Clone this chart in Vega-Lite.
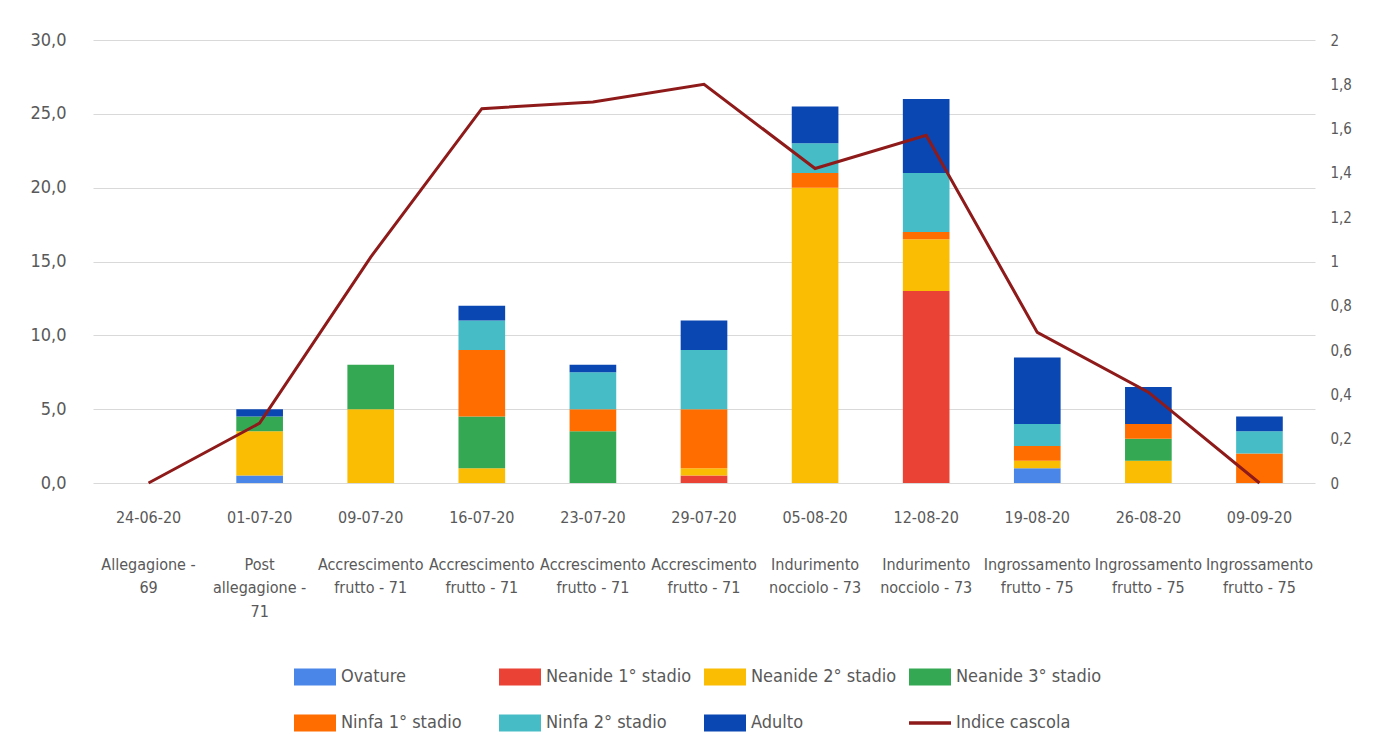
{
  "$schema": "https://vega.github.io/schema/vega-lite/v6.json",
  "width": 1222,
  "height": 443,
  "autosize": "none",
  "padding": {"left": 93, "top": 40, "right": 58, "bottom": 270},
  "background": "white",
  "config": {
    "view": {"stroke": null},
    "font": "DejaVu Sans Condensed",
    "axis": {
      "labelFont": "DejaVu Sans Condensed",
      "labelFontSize": 16,
      "labelColor": "#595959",
      "domain": false,
      "ticks": false,
      "title": null,
      "gridColor": "#d9d9d9",
      "gridWidth": 1
    },
    "legend": {
      "labelFont": "DejaVu Sans Condensed"
    }
  },
  "data": {
    "values": [
      {"periodo": "24-06-20|Allegagione -|69", "Ovature": 0, "Neanide 1° stadio": 0, "Neanide 2° stadio": 0, "Neanide 3° stadio": 0, "Ninfa 1° stadio": 0, "Ninfa 2° stadio": 0, "Adulto": 0, "indice": 0},
      {"periodo": "01-07-20|Post|allegagione -|71", "Ovature": 0.5, "Neanide 1° stadio": 0, "Neanide 2° stadio": 3, "Neanide 3° stadio": 1, "Ninfa 1° stadio": 0, "Ninfa 2° stadio": 0, "Adulto": 0.5, "indice": 0.27},
      {"periodo": "09-07-20|Accrescimento|frutto - 71", "Ovature": 0, "Neanide 1° stadio": 0, "Neanide 2° stadio": 5, "Neanide 3° stadio": 3, "Ninfa 1° stadio": 0, "Ninfa 2° stadio": 0, "Adulto": 0, "indice": 1.02},
      {"periodo": "16-07-20|Accrescimento|frutto - 71", "Ovature": 0, "Neanide 1° stadio": 0, "Neanide 2° stadio": 1, "Neanide 3° stadio": 3.5, "Ninfa 1° stadio": 4.5, "Ninfa 2° stadio": 2, "Adulto": 1, "indice": 1.69},
      {"periodo": "23-07-20|Accrescimento|frutto - 71", "Ovature": 0, "Neanide 1° stadio": 0, "Neanide 2° stadio": 0, "Neanide 3° stadio": 3.5, "Ninfa 1° stadio": 1.5, "Ninfa 2° stadio": 2.5, "Adulto": 0.5, "indice": 1.72},
      {"periodo": "29-07-20|Accrescimento|frutto - 71", "Ovature": 0, "Neanide 1° stadio": 0.5, "Neanide 2° stadio": 0.5, "Neanide 3° stadio": 0, "Ninfa 1° stadio": 4, "Ninfa 2° stadio": 4, "Adulto": 2, "indice": 1.8},
      {"periodo": "05-08-20|Indurimento|nocciolo - 73", "Ovature": 0, "Neanide 1° stadio": 0, "Neanide 2° stadio": 20, "Neanide 3° stadio": 0, "Ninfa 1° stadio": 1, "Ninfa 2° stadio": 2, "Adulto": 2.5, "indice": 1.42},
      {"periodo": "12-08-20|Indurimento|nocciolo - 73", "Ovature": 0, "Neanide 1° stadio": 13, "Neanide 2° stadio": 3.5, "Neanide 3° stadio": 0, "Ninfa 1° stadio": 0.5, "Ninfa 2° stadio": 4, "Adulto": 5, "indice": 1.57},
      {"periodo": "19-08-20|Ingrossamento|frutto - 75", "Ovature": 1, "Neanide 1° stadio": 0, "Neanide 2° stadio": 0.5, "Neanide 3° stadio": 0, "Ninfa 1° stadio": 1, "Ninfa 2° stadio": 1.5, "Adulto": 4.5, "indice": 0.68},
      {"periodo": "26-08-20|Ingrossamento|frutto - 75", "Ovature": 0, "Neanide 1° stadio": 0, "Neanide 2° stadio": 1.5, "Neanide 3° stadio": 1.5, "Ninfa 1° stadio": 1, "Ninfa 2° stadio": 0, "Adulto": 2.5, "indice": 0.41},
      {"periodo": "09-09-20|Ingrossamento|frutto - 75", "Ovature": 0, "Neanide 1° stadio": 0, "Neanide 2° stadio": 0, "Neanide 3° stadio": 0, "Ninfa 1° stadio": 2, "Ninfa 2° stadio": 1.5, "Adulto": 1, "indice": 0}
    ]
  },
  "layer": [
    {
      "transform": [
        {"fold": ["Ovature", "Neanide 1° stadio", "Neanide 2° stadio", "Neanide 3° stadio", "Ninfa 1° stadio", "Ninfa 2° stadio", "Adulto"], "as": ["stadio", "valore"]},
        {"calculate": "indexof(['Ovature', 'Neanide 1° stadio', 'Neanide 2° stadio', 'Neanide 3° stadio', 'Ninfa 1° stadio', 'Ninfa 2° stadio', 'Adulto'], datum.stadio)", "as": "ordine"}
      ],
      "mark": {"type": "bar"},
      "encoding": {
        "x": {
          "field": "periodo",
          "type": "nominal",
          "sort": null,
          "scale": {"paddingInner": 0.58, "paddingOuter": 0.29},
          "axis": {
            "orient": "bottom",
            "labelExpr": "split(datum.label, '|')[0]",
            "labelPadding": 26,
            "labelAngle": 0,
            "labelOverlap": false,
            "grid": false
          }
        },
        "y": {
          "field": "valore",
          "type": "quantitative",
          "stack": "zero",
          "scale": {"domain": [0, 30], "nice": false},
          "axis": {
            "orient": "left",
            "values": [0, 5, 10, 15, 20, 25, 30],
            "labelExpr": "replace(format(datum.value, '.1f'), '.', ',')",
            "labelFontSize": 18,
            "labelPadding": 27,
            "grid": true
          }
        },
        "color": {
          "field": "stadio",
          "type": "nominal",
          "scale": {
            "domain": ["Ovature", "Neanide 1° stadio", "Neanide 2° stadio", "Neanide 3° stadio", "Ninfa 1° stadio", "Ninfa 2° stadio", "Adulto", "Indice cascola"],
            "range": ["#4a86e8", "#ea4335", "#fbbc04", "#34a853", "#ff6d01", "#46bdc6", "#0b47b2", "#8e1a1a"]
          },
          "legend": {
            "orient": "none",
            "legendX": 213,
            "legendY": 628,
            "direction": "horizontal",
            "columns": 4,
            "title": null,
            "gridAlign": "all",
            "columnPadding": 5,
            "rowPadding": 28,
            "symbolType": "M-1,-0.4H1V0.4H-1Z",
            "symbolSize": 1764,
            "labelFontSize": 18,
            "labelColor": "#595959",
            "labelOffset": 17,
            "labelLimit": 220,
            "encode": {
              "symbols": {
                "update": {
                  "shape": {"signal": "datum.value === 'Indice cascola' ? 'M-1,0H1' : 'M-1,-0.4H1V0.4H-1Z'"},
                  "fill": {"signal": "datum.value === 'Indice cascola' ? 'transparent' : scale('color', datum.value)"},
                  "stroke": {"signal": "scale('color', datum.value)"},
                  "strokeWidth": {"signal": "datum.value === 'Indice cascola' ? 3.5 : 0"},
                  "opacity": {"value": 1}
                }
              }
            }
          }
        },
        "order": {"field": "ordine", "type": "quantitative"}
      }
    },
    {
      "mark": {"type": "line", "strokeWidth": 3},
      "encoding": {
        "x": {
          "field": "periodo",
          "type": "nominal",
          "sort": null,
          "axis": {
            "orient": "bottom",
            "labelExpr": "slice(split(datum.label, '|'), 1)",
            "labelLineHeight": 23.5,
            "labelPadding": 73,
            "labelAngle": 0,
            "labelOverlap": false,
            "labelLimit": 200,
            "grid": false
          }
        },
        "y": {
          "field": "indice",
          "type": "quantitative",
          "scale": {"domain": [0, 2], "nice": false},
          "axis": {
            "orient": "right",
            "values": [0, 0.2, 0.4, 0.6, 0.8, 1, 1.2, 1.4, 1.6, 1.8, 2],
            "labelExpr": "replace('' + datum.value, '.', ',')",
            "labelFontSize": 15,
            "labelPadding": 15,
            "grid": false
          }
        },
        "color": {"datum": "Indice cascola"}
      }
    }
  ],
  "resolve": {"scale": {"y": "independent"}, "axis": {"x": "independent"}}
}
